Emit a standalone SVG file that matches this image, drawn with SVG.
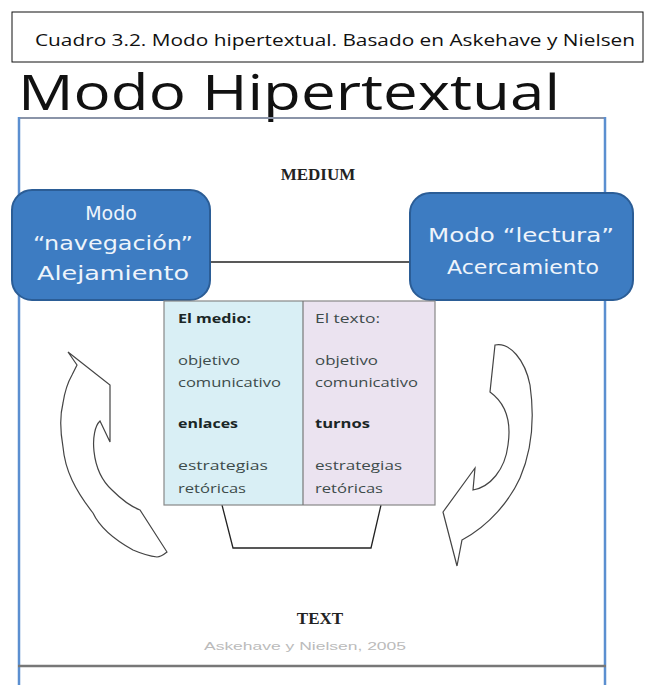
<svg xmlns="http://www.w3.org/2000/svg" width="653" height="685" viewBox="0 0 653 685">
<style>
.cap{font-family:"Open Sans","Liberation Sans",sans-serif;font-size:17px;fill:#111}
.title{font-family:"Open Sans","Liberation Sans",sans-serif;font-size:50px;fill:#111}
.serif{font-family:"Liberation Serif","Times New Roman",serif;font-weight:bold;font-size:17px;fill:#222}
.mode{font-family:"DejaVu Sans","Liberation Sans",sans-serif;font-size:19px;fill:#eef4fb}
.box{fill:#3d7cc2;stroke:#2b5d96;stroke-width:2}
.cell{font-family:"Open Sans","Liberation Sans",sans-serif;font-size:13px;fill:#3d4b4b}
.b{font-weight:bold;fill:#1a2626}
.ln{fill:none;stroke:#222;stroke-width:1.3}
.arrow{fill:#fff;stroke:#444;stroke-width:1.2}
</style>
<rect width="653" height="685" fill="#fff"/>
<g id="caption">
<rect x="12" y="12" width="631" height="50" fill="#fff" stroke="#111" stroke-width="1"/>
<text class="cap" x="35" y="46" textLength="600" lengthAdjust="spacingAndGlyphs">Cuadro 3.2. Modo hipertextual. Basado en Askehave y Nielsen</text>
</g>
<g id="title">
<text class="title" x="18" y="110" textLength="542" lengthAdjust="spacingAndGlyphs">Modo Hipertextual</text>
</g>
<g id="frame">
<line x1="18" y1="118" x2="606" y2="118" stroke="#8a94a8" stroke-width="2"/>
<line x1="19" y1="117" x2="19" y2="685" stroke="#5b8fd0" stroke-width="2.5"/>
<line x1="605" y1="117" x2="605" y2="685" stroke="#5b8fd0" stroke-width="2.5"/>
<line x1="18" y1="666" x2="606" y2="666" stroke="#777" stroke-width="2.5"/>
</g>
<g id="medium">
<text class="serif" x="318" y="180" text-anchor="middle">MEDIUM</text>
</g>
<g id="connectors">
<line class="ln" x1="210" y1="262" x2="412" y2="262"/>
<polyline class="ln" points="222,505 233,548 371,548 381,505"/>
<path class="arrow" d="M68,352 L110,385 L110,442 L100,421 C90,430 90,470 112,490 C122,500 132,507 140,510 L167,552 C162,556 160,557 157,557 C148,556 140,553 133,550 C115,540 100,528 93,513 C75,490 65,470 63,447 C60,430 60,415 63,403 C65,390 68,382 72,375 L77,365 Z"/>
<path class="arrow" d="M495,345 C510,342 525,360 530,385 C535,420 532,450 520,478 C510,500 490,525 462,540 L457,566 L443,512 L475,468 L473,490 C490,487 505,470 508,445 C511,425 508,405 490,392 Z"/>
</g>
<g id="mode-navegacion">
<rect class="box" x="12" y="190" width="198" height="110" rx="20"/>
<text class="mode" x="111" y="220" text-anchor="middle">Modo</text>
<text class="mode" x="113" y="250" text-anchor="middle" textLength="160" lengthAdjust="spacingAndGlyphs">“navegación”</text>
<text class="mode" x="113" y="280" text-anchor="middle" textLength="152" lengthAdjust="spacingAndGlyphs">Alejamiento</text>
</g>
<g id="mode-lectura">
<rect class="box" x="410" y="193" width="223" height="107" rx="20"/>
<text class="mode" x="521" y="242" text-anchor="middle" textLength="186" lengthAdjust="spacingAndGlyphs">Modo “lectura”</text>
<text class="mode" x="523" y="274" text-anchor="middle" textLength="152" lengthAdjust="spacingAndGlyphs">Acercamiento</text>
</g>
<g id="table">
<rect x="164" y="301" width="139" height="204" fill="#d9eff5"/>
<rect x="303" y="301" width="132" height="204" fill="#ebe3f0"/>
<rect x="164" y="301" width="271" height="204" fill="none" stroke="#888" stroke-width="1.2"/>
<line x1="303" y1="301" x2="303" y2="505" stroke="#777" stroke-width="1.2"/>
<text class="cell b" x="178" y="323" textLength="73" lengthAdjust="spacingAndGlyphs">El medio:</text>
<text class="cell" x="178" y="365" textLength="62" lengthAdjust="spacingAndGlyphs">objetivo</text>
<text class="cell" x="178" y="387" textLength="103" lengthAdjust="spacingAndGlyphs">comunicativo</text>
<text class="cell b" x="178" y="428" textLength="60" lengthAdjust="spacingAndGlyphs">enlaces</text>
<text class="cell" x="178" y="470" textLength="90" lengthAdjust="spacingAndGlyphs">estrategias</text>
<text class="cell" x="178" y="493" textLength="68" lengthAdjust="spacingAndGlyphs">retóricas</text>
<text class="cell" x="315" y="323" textLength="65" lengthAdjust="spacingAndGlyphs">El texto:</text>
<text class="cell" x="315" y="365" textLength="63" lengthAdjust="spacingAndGlyphs">objetivo</text>
<text class="cell" x="315" y="387" textLength="103" lengthAdjust="spacingAndGlyphs">comunicativo</text>
<text class="cell b" x="315" y="428" textLength="55" lengthAdjust="spacingAndGlyphs">turnos</text>
<text class="cell" x="315" y="470" textLength="87" lengthAdjust="spacingAndGlyphs">estrategias</text>
<text class="cell" x="315" y="493" textLength="68" lengthAdjust="spacingAndGlyphs">retóricas</text>
</g>
<g id="text-label">
<text class="serif" x="320" y="624" text-anchor="middle">TEXT</text>
<text x="305" y="650" text-anchor="middle" font-family="Liberation Sans, Arial, sans-serif" font-size="11" fill="#bbb" textLength="202" lengthAdjust="spacingAndGlyphs">Askehave y Nielsen, 2005</text>
</g>
</svg>
